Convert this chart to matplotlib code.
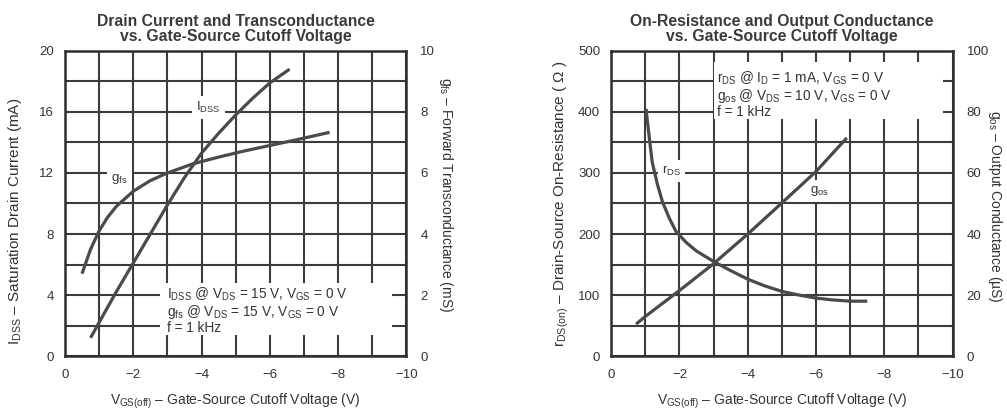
import numpy as np
import matplotlib
matplotlib.use("Agg")
import matplotlib.pyplot as plt
from matplotlib.patches import Rectangle

plt.rcParams["font.family"] = ["Liberation Sans", "DejaVu Sans"]
plt.rcParams["mathtext.fontset"] = "custom"
plt.rcParams["mathtext.rm"] = "Liberation Sans"
plt.rcParams["mathtext.it"] = "Liberation Sans:italic"
plt.rcParams["mathtext.bf"] = "Liberation Sans:bold"

# left chart: drain current and transconductance
idss_v = [-0.75, -1.0, -1.5, -2.0, -2.5, -3.0, -3.5, -4.0, -4.5, -5.0, -5.5, -6.0, -6.58]
idss_ma = [1.2, 2.2, 4.2, 6.1, 8.0, 9.9, 11.7, 13.3, 14.6, 15.8, 16.9, 17.9, 18.8]
gfs_v = [-0.5, -0.75, -1.0, -1.25, -1.5, -2.0, -2.5, -3.0, -3.75, -4.5, -5.25, -6.0, -6.75, -7.75]
gfs_ms = [2.7, 3.5, 4.1, 4.55, 4.9, 5.4, 5.75, 6.0, 6.3, 6.52, 6.72, 6.9, 7.08, 7.33]

# right chart: on-resistance and output conductance
rds_v = [-1.02, -1.1, -1.2, -1.35, -1.5, -1.7, -1.9, -2.2, -2.5, -3.0, -3.5, -4.0,
         -4.5, -5.0, -5.5, -6.0, -6.5, -7.0, -7.5]
rds_ohm = [405, 365, 318, 282, 253, 226, 204, 186, 172, 155, 140, 126,
           115, 106, 100, 95, 92, 90, 90]
gos_v = [-0.73, -1.0, -2.0, -3.0, -4.0, -5.0, -6.0, -6.9]
gos_us = [10.5, 13.0, 21.5, 30.3, 40.0, 50.2, 60.5, 71.5]

x_ticks = [0, -2, -4, -6, -8, -10]
x_labels = ["0", "\u22122", "\u22124", "\u22126", "\u22128", "\u221210"]

TXT = "#333333"
GRID = "#3c3c3c"
CURVE = "#4a4a4a"


def setup_axes(ax, ymax, ystep_major, ystep_minor):
    ax.set_xlim(0, -10)
    ax.set_ylim(0, ymax)
    ax.set_xticks(x_ticks)
    ax.set_xticklabels(x_labels)
    ax.set_xticks(np.arange(0, -11, -1), minor=True)
    ax.set_yticks(np.arange(0, ymax + 1, ystep_major))
    ax.set_yticks(np.arange(0, ymax + 1, ystep_minor), minor=True)
    ax.set_axisbelow(True)
    ax.grid(which="both", color=GRID, lw=1.5)
    ax.tick_params(which="both", length=0, labelsize=9.5, colors=TXT)
    ax.tick_params(axis="x", pad=9)
    ax.tick_params(axis="y", pad=8)
    for s in ax.spines.values():
        s.set_color("#2e2e2e")
        s.set_linewidth(1.8)


def setup_twin(ax2, ymax, ystep):
    ax2.set_ylim(0, ymax)
    ax2.set_yticks(np.arange(0, ymax + 1, ystep))
    ax2.tick_params(length=0, labelsize=9.5, colors=TXT, pad=10)
    for s in ax2.spines.values():
        s.set_visible(False)


fig, (ax1, ax3) = plt.subplots(1, 2, figsize=(10.07, 4.17), dpi=100)
fig.subplots_adjust(left=0.0645, right=0.946, bottom=0.146, top=0.878, wspace=0.6)

note_kw = dict(fontsize=9.8, color=TXT, ha="left", va="top", linespacing=1.0, zorder=4)
box = dict(boxstyle="square,pad=0.3", fc="white", ec="none")
title_kw = dict(fontsize=11.3, fontweight="bold", color="#3a3a3a", pad=7, linespacing=1.0)

# ---- left panel
setup_axes(ax1, 20, 4, 2)
ax2 = ax1.twinx()
setup_twin(ax2, 10, 2)

ax1.add_patch(Rectangle((0.278, 0.069), 0.68, 0.17, transform=ax1.transAxes,
                        fc="white", ec="none", zorder=1))
ax1.plot(idss_v, idss_ma, color=CURVE, lw=2.3, zorder=5, solid_capstyle="butt")
ax2.plot(gfs_v, gfs_ms, color=CURVE, lw=2.3, zorder=5, solid_capstyle="butt")

ax1.text(-4.2, 16.3, r"I$_\mathrm{DSS}$", fontsize=9.5, color=TXT, ha="center",
         va="center", bbox=box, zorder=4)
ax1.text(-1.6, 11.6, r"g$_\mathrm{fs}$", fontsize=9.5, color=TXT, ha="center",
         va="center", bbox=box, zorder=4)
ax1.text(-2.98, 4.65,
         r"I$_\mathrm{DSS}$ @ V$_\mathrm{DS}$ = 15 V, V$_\mathrm{GS}$ = 0 V" + "\n"
         + r"g$_\mathrm{fs}$ @ V$_\mathrm{DS}$ = 15 V, V$_\mathrm{GS}$ = 0 V" + "\n"
         + "f = 1 kHz", **note_kw)

ax1.set_title("Drain Current and Transconductance\nvs. Gate-Source Cutoff Voltage", **title_kw)
ax1.set_xlabel(r"V$_\mathrm{GS(off)}$ " + "\u2013 Gate-Source Cutoff Voltage (V)",
               fontsize=10, color=TXT, labelpad=8)
ax1.set_ylabel(r"I$_\mathrm{DSS}$ " + "\u2013 Saturation Drain Current (mA)",
               fontsize=11, color=TXT, va="center")
ax1.yaxis.set_label_coords(-0.146, 0.44)
ax2.set_ylabel(r"g$_\mathrm{fs}$ " + "\u2013 Forward Transconductance (mS)",
               fontsize=10, color=TXT, rotation=270, va="center")
ax2.yaxis.set_label_coords(1.117, 0.53)

# ---- right panel
setup_axes(ax3, 500, 100, 50)
ax4 = ax3.twinx()
setup_twin(ax4, 100, 20)

ax3.add_patch(Rectangle((0.302, 0.778), 0.669, 0.186, transform=ax3.transAxes,
                        fc="white", ec="none", zorder=1))
ax3.plot(rds_v, rds_ohm, color=CURVE, lw=2.3, zorder=5, solid_capstyle="butt")
ax4.plot(gos_v, gos_us, color=CURVE, lw=2.3, zorder=5, solid_capstyle="butt")

ax3.text(-1.76, 304, r"r$_\mathrm{DS}$", fontsize=9.5, color=TXT, ha="center",
         va="center", bbox=box, zorder=4)
ax3.text(-6.1, 271, r"g$_\mathrm{os}$", fontsize=9.5, color=TXT, ha="center",
         va="center", bbox=box, zorder=4)
ax3.text(-3.1, 470,
         r"r$_\mathrm{DS}$ @ I$_\mathrm{D}$ = 1 mA, V$_\mathrm{GS}$ = 0 V" + "\n"
         + r"g$_\mathrm{os}$ @ V$_\mathrm{DS}$ = 10 V, V$_\mathrm{GS}$ = 0 V" + "\n"
         + "f = 1 kHz", **note_kw)

ax3.set_title("On-Resistance and Output Conductance\nvs. Gate-Source Cutoff Voltage", **title_kw)
ax3.set_xlabel(r"V$_\mathrm{GS(off)}$ " + "\u2013 Gate-Source Cutoff Voltage (V)",
               fontsize=10, color=TXT, labelpad=8)
ax3.set_ylabel(r"r$_\mathrm{DS(on)}$ " + "\u2013 Drain-Source On-Resistance ( \u03a9 )",
               fontsize=11, color=TXT, va="center")
ax3.yaxis.set_label_coords(-0.147, 0.5)
ax4.set_ylabel(r"g$_\mathrm{os}$ " + "\u2013 Output Conductance (\u00b5S)",
               fontsize=10, color=TXT, rotation=270, va="center")
ax4.yaxis.set_label_coords(1.123, 0.49)

fig.savefig("out.png", dpi=100, facecolor="white")
